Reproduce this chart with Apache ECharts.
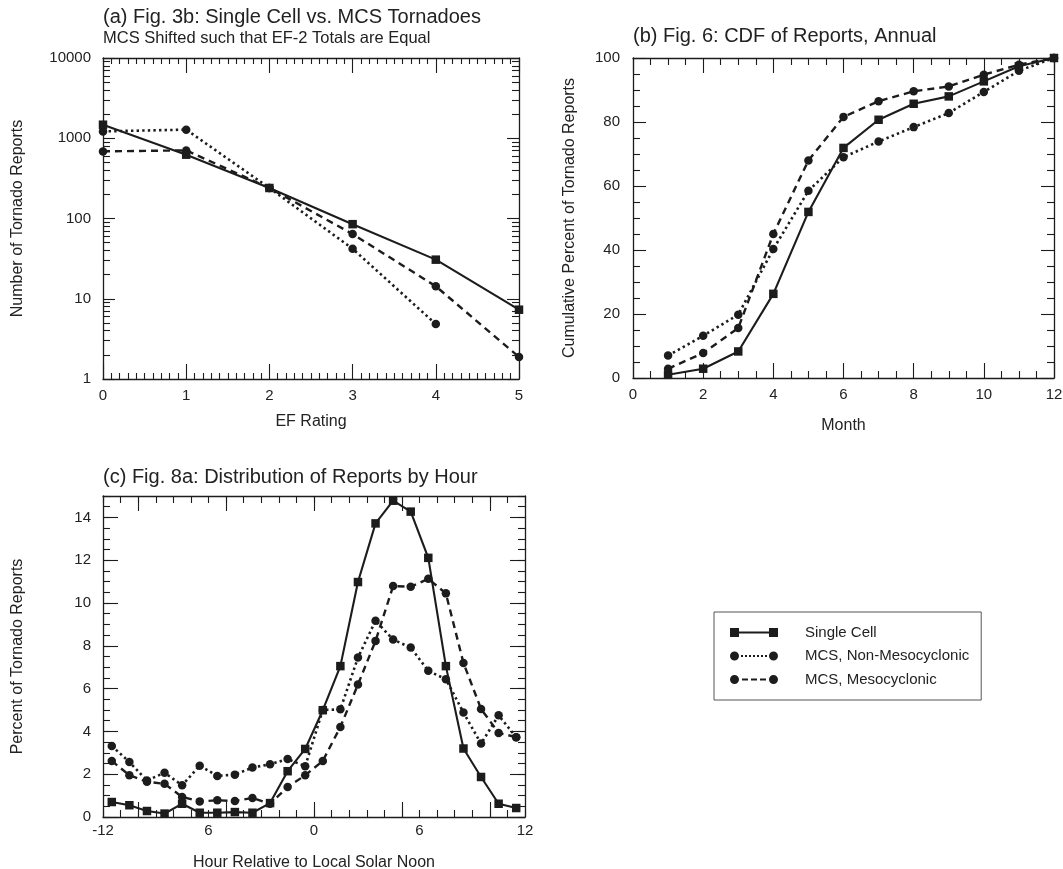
<!DOCTYPE html>
<html><head><meta charset="utf-8">
<script src="https://cdn.jsdelivr.net/npm/echarts@6/dist/echarts.min.js"></script>
<style>html,body{margin:0;padding:0;background:#fff}#c{width:1063px;height:869px}</style>
</head><body><div id="c"></div>
<script>
// ---------- data ----------
const seriesNames = ['Single Cell', 'MCS, Non-Mesocyclonic', 'MCS, Mesocyclonic'];

// (a) EF rating distribution (log scale)
const efRatings      = [0, 1, 2, 3, 4, 5];
const efSingleCell   = [1475, 624, 240, 85, 30.7, 7.3];
const efNonMeso      = [1218, 1280, 240, 42, 4.84, null];
const efMeso         = [686, 706, 240, 64, 14.3, 1.88];
const efYTickLabels  = ['1', '10', '100', '1000', '10000'];

// (b) CDF by month
const months         = [1, 2, 3, 4, 5, 6, 7, 8, 9, 10, 11, 12];
const cdfSingleCell  = [1.0, 2.9, 8.3, 26.3, 51.9, 71.9, 80.7, 85.7, 88.0, 92.7, 97.4, 100];
const cdfNonMeso     = [7.0, 13.2, 19.8, 40.3, 58.5, 69.0, 73.9, 78.4, 82.8, 89.4, 96.0, 100];
const cdfMeso        = [2.9, 7.8, 15.6, 45.0, 68.0, 81.6, 86.5, 89.6, 91.1, 94.8, 97.9, 100];

// (c) distribution by hour relative to local solar noon
const hours = [-11.5,-10.5,-9.5,-8.5,-7.5,-6.5,-5.5,-4.5,-3.5,-2.5,-1.5,-0.5,0.5,1.5,2.5,3.5,4.5,5.5,6.5,7.5,8.5,9.5,10.5,11.5];
const hourSingleCell = [0.70,0.55,0.28,0.16,0.62,0.20,0.20,0.23,0.20,0.65,2.14,3.18,4.99,7.05,10.98,13.72,14.78,14.27,12.11,7.05,3.20,1.87,0.62,0.42];
const hourNonMeso    = [3.32,2.57,1.70,2.07,1.48,2.40,1.92,1.98,2.31,2.46,2.71,2.37,5.00,5.03,7.45,9.17,8.29,7.92,6.83,6.44,4.88,3.43,4.75,3.73];
const hourMeso       = [2.62,1.95,1.65,1.55,0.94,0.73,0.78,0.75,0.89,0.62,1.40,1.95,2.62,4.21,6.19,8.23,10.79,10.76,11.13,10.45,7.20,5.05,3.93,3.73];
const hourTickValues = [-12, -6, 0, 6, 12];
const hourTickLabels = ['-12', '6', '0', '6', '12'];
const hourMajorTicks = [-10, -5, 0, 5, 10];
const pctTickValues  = [0, 2, 4, 6, 8, 10, 12, 14];

// ---------- styling ----------
const FONT = 'Liberation Sans, Arial, Helvetica, sans-serif';
const INK = '#1c1c1c';
const TXT = '#222';
const axLine = {show: true, onZero: false, lineStyle: {color: INK, width: 1.3}};
const noLine = {show: false, onZero: false};
const tick = (len, extra) => Object.assign({show: true, inside: true, length: len, lineStyle: {color: INK, width: 1.1}}, extra || {});
const minor = (n, len) => ({show: true, splitNumber: n, length: len, lineStyle: {color: INK, width: 1.1}});
const lbl = (extra) => Object.assign({color: TXT, fontSize: 15, fontFamily: FONT}, extra || {});
const nameStyle = {color: TXT, fontSize: 16, fontFamily: FONT};
const off = {show: false};

const lineStyles = [
  {color: INK, width: 2.1, type: 'solid'},
  {color: INK, width: 2.6, type: [2.4, 3.2], cap: 'butt'},
  {color: INK, width: 2.4, type: [7, 5], cap: 'butt'}
];
const symbols = ['rect', 'circle', 'circle'];
const symbolSizes = [8.5, 8.5, 8.5];

function mk(name, idx, xs, ys, xi, yi) {
  const data = xs.map((x, i) => [x, ys[i]]).filter(p => p[1] != null);
  return {
    type: 'line', name: name, xAxisIndex: xi, yAxisIndex: yi, data: data,
    symbol: symbols[idx], symbolSize: symbolSizes[idx], showSymbol: true,
    lineStyle: lineStyles[idx], itemStyle: {color: INK}, z: 3 - idx,
    silent: true, animation: false
  };
}

// log minor tick positions (in log10 space) for the decorative axis
const logMinor = [];
for (let k = 0; k < 4; k++) for (let m = 2; m <= 9; m++) logMinor.push(k + Math.log10(m));

const G = [
  {left: 103, top: 58, width: 416, height: 321, outerBoundsMode: 'none', containLabel: false},
  {left: 633, top: 58, width: 421, height: 320, outerBoundsMode: 'none', containLabel: false},
  {left: 103, top: 496, width: 422, height: 321, outerBoundsMode: 'none', containLabel: false}
];

const xAxis = [
  // (a)
  {gridIndex: 0, type: 'value', min: 0, max: 5, interval: 1, position: 'bottom', axisLine: axLine,
   axisTick: tick(15), minorTick: minor(10, 6), splitLine: off, minorSplitLine: off,
   axisLabel: lbl({margin: 9}), name: 'EF Rating', nameLocation: 'middle', nameGap: 35, nameTextStyle: nameStyle},
  {gridIndex: 0, type: 'value', min: 0, max: 5, interval: 1, position: 'top', axisLine: axLine,
   axisTick: tick(15), minorTick: minor(10, 6), splitLine: off, axisLabel: off},
  // (b)
  {gridIndex: 1, type: 'value', min: 0, max: 12, interval: 2, position: 'bottom', axisLine: axLine,
   axisTick: tick(15), minorTick: minor(4, 7), splitLine: off, minorSplitLine: off,
   axisLabel: lbl({margin: 9}), name: 'Month', nameLocation: 'middle', nameGap: 40, nameTextStyle: nameStyle},
  {gridIndex: 1, type: 'value', min: 0, max: 12, interval: 2, position: 'top', axisLine: axLine,
   axisTick: tick(15), minorTick: minor(4, 7), splitLine: off, axisLabel: off},
  // (c)
  {gridIndex: 2, type: 'value', min: -12, max: 12, interval: 6, position: 'bottom', axisLine: axLine,
   axisTick: tick(15, {customValues: hourMajorTicks}), splitLine: off,
   axisLabel: lbl({margin: 6, formatter: v => hourTickLabels[hourTickValues.indexOf(Math.round(v))]}),
   name: 'Hour Relative to Local Solar Noon', nameLocation: 'middle', nameGap: 38, nameTextStyle: nameStyle},
  {gridIndex: 2, type: 'value', min: -12, max: 12, interval: 6, position: 'top', axisLine: axLine,
   axisTick: tick(15, {customValues: hourMajorTicks}), splitLine: off, axisLabel: off},
  {gridIndex: 2, type: 'value', min: -12, max: 12, interval: 1, position: 'bottom', axisLine: noLine,
   axisTick: tick(7), splitLine: off, axisLabel: off},
  {gridIndex: 2, type: 'value', min: -12, max: 12, interval: 1, position: 'top', axisLine: noLine,
   axisTick: tick(7), splitLine: off, axisLabel: off}
];

const yAxis = [
  // (a)
  {gridIndex: 0, type: 'log', logBase: 10, min: 1, max: 10000, position: 'left', axisLine: axLine,
   axisTick: tick(12), splitLine: off,
   axisLabel: lbl({margin: 12, formatter: v => efYTickLabels[Math.round(Math.log10(v))]}),
   name: 'Number of Tornado Reports', nameLocation: 'middle', nameGap: 77, nameRotate: 90, nameTextStyle: nameStyle},
  {gridIndex: 0, type: 'log', logBase: 10, min: 1, max: 10000, position: 'right', axisLine: axLine,
   axisTick: tick(12), splitLine: off, axisLabel: off},
  {gridIndex: 0, type: 'value', min: 0, max: 4, position: 'left', axisLine: noLine,
   axisTick: tick(7, {customValues: logMinor}), splitLine: off, axisLabel: off},
  {gridIndex: 0, type: 'value', min: 0, max: 4, position: 'right', axisLine: noLine,
   axisTick: tick(7, {customValues: logMinor}), splitLine: off, axisLabel: off},
  // (b)
  {gridIndex: 1, type: 'value', min: 0, max: 100, interval: 20, position: 'left', axisLine: axLine,
   axisTick: tick(13), minorTick: minor(4, 7), splitLine: off, minorSplitLine: off,
   axisLabel: lbl({margin: 13}),
   name: 'Cumulative Percent of Tornado Reports', nameLocation: 'middle', nameGap: 55, nameRotate: 90, nameTextStyle: nameStyle},
  {gridIndex: 1, type: 'value', min: 0, max: 100, interval: 20, position: 'right', axisLine: axLine,
   axisTick: tick(13), minorTick: minor(4, 7), splitLine: off, axisLabel: off},
  // (c)
  {gridIndex: 2, type: 'value', min: 0, max: 15, interval: 2, position: 'left', axisLine: axLine,
   axisTick: tick(15, {customValues: pctTickValues}), splitLine: off,
   axisLabel: lbl({margin: 12, customValues: pctTickValues}),
   name: 'Percent of Tornado Reports', nameLocation: 'middle', nameGap: 77, nameRotate: 90, nameTextStyle: nameStyle},
  {gridIndex: 2, type: 'value', min: 0, max: 15, interval: 2, position: 'right', axisLine: axLine,
   axisTick: tick(15, {customValues: pctTickValues}), splitLine: off, axisLabel: off},
  {gridIndex: 2, type: 'value', min: 0, max: 15, interval: 0.5, position: 'left', axisLine: noLine,
   axisTick: tick(7), splitLine: off, axisLabel: off},
  {gridIndex: 2, type: 'value', min: 0, max: 15, interval: 0.5, position: 'right', axisLine: noLine,
   axisTick: tick(7), splitLine: off, axisLabel: off}
];

const series = [
  mk(seriesNames[0], 0, efRatings, efSingleCell, 0, 0),
  mk(seriesNames[1], 1, efRatings, efNonMeso, 0, 0),
  mk(seriesNames[2], 2, efRatings, efMeso, 0, 0),
  mk(seriesNames[0], 0, months, cdfSingleCell, 2, 4),
  mk(seriesNames[1], 1, months, cdfNonMeso, 2, 4),
  mk(seriesNames[2], 2, months, cdfMeso, 2, 4),
  mk(seriesNames[0], 0, hours, hourSingleCell, 4, 6),
  mk(seriesNames[1], 1, hours, hourNonMeso, 4, 6),
  mk(seriesNames[2], 2, hours, hourMeso, 4, 6)
];

// legend icons: marker - line - marker
const circ = (cx) => `M${cx - 4.5},4.5a4.5,4.5 0 1,0 9,0a4.5,4.5 0 1,0 -9,0z`;
const ICON_SOLID = 'path://M0,0h9v9h-9zM9,3.5h30v2h-30zM39,0h9v9h-9z';
let dots = ''; for (let x = 11; x <= 35; x += 4) dots += `M${x},3.5h2v2h-2z`;
const ICON_DOT = 'path://' + circ(4.5) + dots + circ(43.5);
const ICON_DASH = 'path://' + circ(4.5) + 'M12,3.4h6v2.2h-6zM21,3.4h6v2.2h-6zM30,3.4h6v2.2h-6z' + circ(43.5);
const icons = [ICON_SOLID, ICON_DOT, ICON_DASH];

const titleStyle = {color: TXT, fontSize: 20, fontWeight: 'normal', fontFamily: FONT};
const option = {
  backgroundColor: '#fff',
  animation: false,
  grid: G,
  title: [
    {text: '(a) Fig. 3b: Single Cell vs. MCS Tornadoes', left: 103, top: 7, padding: 0, textStyle: titleStyle},
    {text: 'MCS Shifted such that EF-2 Totals are Equal', left: 103, top: 30, padding: 0, textStyle: {color: TXT, fontSize: 16.5, fontWeight: 'normal', fontFamily: FONT}},
    {text: '(b) Fig. 6: CDF of Reports, Annual', left: 633, top: 26, padding: 0, textStyle: titleStyle},
    {text: '(c) Fig. 8a: Distribution of Reports by Hour', left: 103, top: 467, padding: 0, textStyle: titleStyle}
  ],
  legend: {
    left: 714, top: 612, orient: 'vertical', itemWidth: 48, itemHeight: 9, itemGap: 7.5,
    padding: [12.5, 12, 12.5, 16], borderColor: '#555', borderWidth: 1, borderRadius: 0,
    selectedMode: false,
    textStyle: {fontSize: 15, color: TXT, fontFamily: FONT, lineHeight: 16, padding: [0, 0, 0, 22]},
    data: seriesNames.map((n, i) => ({name: n, icon: icons[i], itemStyle: {color: INK, borderWidth: 0}}))
  },
  xAxis: xAxis,
  yAxis: yAxis,
  series: series
};

const chart = echarts.init(document.getElementById('c'), null, {renderer: 'canvas'});
chart.setOption(option);
</script>
</body></html>
